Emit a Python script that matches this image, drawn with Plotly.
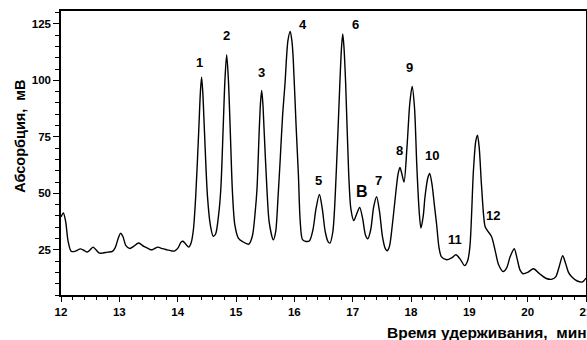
import plotly.graph_objects as go

# Retention time (min) and absorption (mV)
time_min = [
    12.00, 12.04, 12.08, 12.12, 12.17, 12.22, 12.28, 12.33, 12.39, 12.45,
    12.50, 12.55, 12.60, 12.66, 12.72, 12.80, 12.88, 12.93, 12.98, 13.02,
    13.06, 13.11, 13.18, 13.25, 13.33, 13.42, 13.50, 13.55, 13.60, 13.66,
    13.74, 13.82, 13.90, 13.95, 14.01, 14.06, 14.09, 14.14, 14.19, 14.23,
    14.27, 14.31, 14.36, 14.39, 14.41, 14.43, 14.46, 14.51, 14.56, 14.61,
    14.65, 14.70, 14.74, 14.78, 14.81, 14.84, 14.87, 14.90, 14.94, 14.98,
    15.04, 15.12, 15.22, 15.28, 15.33, 15.36, 15.40, 15.42, 15.44, 15.46,
    15.48, 15.53, 15.57, 15.64, 15.68, 15.72, 15.76, 15.80, 15.84, 15.89,
    15.93, 15.96, 15.98, 16.03, 16.07, 16.10, 16.14, 16.20, 16.26, 16.32,
    16.37, 16.43, 16.48, 16.53, 16.58, 16.61, 16.66, 16.72, 16.78, 16.81,
    16.83, 16.85, 16.88, 16.93, 16.97, 17.02, 17.07, 17.12, 17.17, 17.22,
    17.26, 17.31, 17.36, 17.41, 17.46, 17.51, 17.56, 17.59, 17.63, 17.68,
    17.72, 17.78, 17.81, 17.84, 17.88, 17.93, 17.98, 18.02, 18.06, 18.10,
    18.14, 18.17, 18.21, 18.24, 18.29, 18.32, 18.36, 18.40, 18.44, 18.48,
    18.52, 18.61, 18.70, 18.77, 18.84, 18.92, 18.97, 19.01, 19.07, 19.11,
    19.14, 19.17, 19.21, 19.27, 19.31, 19.38, 19.44, 19.50, 19.58, 19.64,
    19.70, 19.77, 19.82, 19.87, 19.92, 20.00, 20.10, 20.20, 20.32, 20.42,
    20.48, 20.54, 20.60, 20.65, 20.70, 20.75, 20.85, 20.94, 21.00,
]
absorb_mv = [
    39.5, 41.3, 37.5, 29.0, 24.5, 24.2, 24.8, 25.4, 24.8, 24.0,
    25.0, 26.2, 25.0, 23.5, 23.6, 24.0, 24.3, 26.0, 30.0, 32.3,
    31.0, 27.0, 25.6, 26.6, 28.0, 26.5, 25.5, 25.0, 25.5, 26.2,
    25.5, 25.0, 24.5, 24.5, 26.0, 28.5, 28.8, 27.5, 26.2, 28.0,
    34.0, 49.0, 77.0, 95.0, 101.4, 95.0, 77.0, 49.0, 36.0, 31.0,
    32.0, 40.0, 52.0, 79.0, 100.0, 111.4, 100.0, 79.0, 50.0, 36.0,
    30.2, 28.5, 27.5, 31.0, 42.0, 52.0, 79.0, 90.0, 95.5, 90.0,
    79.0, 52.0, 37.0, 29.4, 33.0, 48.0, 66.0, 85.0, 98.5, 117.6,
    121.7, 117.0, 110.0, 80.0, 58.0, 38.0, 29.5, 28.7, 29.0, 34.0,
    43.0, 49.5, 43.0, 33.0, 28.5, 28.0, 33.0, 60.0, 98.5, 115.0,
    120.5, 115.0, 98.5, 60.0, 43.0, 37.9, 41.0, 43.8, 39.0, 31.5,
    29.9, 34.0, 44.0, 48.5, 42.0, 31.0, 25.5, 24.6, 26.5, 36.0,
    45.6, 58.8, 61.5, 59.0, 55.0, 70.0, 90.0, 97.3, 88.0, 62.0,
    42.0, 34.6, 40.0, 48.5, 57.0, 58.8, 54.0, 45.0, 36.0, 26.0,
    22.0, 20.6, 21.5, 22.8, 21.0, 18.0, 20.0, 26.5, 60.0, 73.0,
    75.7, 70.0, 53.0, 35.3, 33.5, 30.9, 25.0, 18.5, 15.4, 17.0,
    22.0, 25.5, 21.0, 16.0, 14.4, 15.0, 16.6, 14.5, 12.3, 12.0,
    13.0, 17.5, 22.4, 19.0, 15.0, 13.2, 11.2, 10.8, 12.5,
]

# Peak labels and their positions (data coordinates)
peak_names = ["1", "2", "3", "4", "5", "6", "В", "7", "8", "9", "10", "11", "12"]
peak_t = [14.38, 14.83, 15.44, 16.15, 16.42, 17.04, 17.16, 17.44, 17.81, 17.98, 18.36, 18.75, 19.40]
peak_v = [107.9, 119.8, 103.5, 124.6, 55.9, 124.6, 50.6, 55.9, 69.1, 105.7, 66.9, 29.4, 40.4]

x_ticks = [12, 13, 14, 15, 16, 17, 18, 19, 20, 21]
y_ticks = [25, 50, 75, 100, 125]

FONT = "Liberation Sans"

fig = go.Figure()
fig.add_trace(go.Scatter(
    x=time_min, y=absorb_mv, mode="lines",
    line=dict(color="black", width=1.4, shape="spline", smoothing=0.8),
    hoverinfo="skip", showlegend=False,
))

for name, t, v in zip(peak_names, peak_t, peak_v):
    fig.add_annotation(
        x=t, y=v, text=f"<b>{name}</b>", showarrow=False,
        font=dict(family=FONT, size=16 if name == "В" else 13, color="black"),
    )

# Axis titles
fig.add_annotation(
    xref="paper", yref="paper", x=0, y=0.557, xshift=-41,
    text="<b>Абсорбция,  мВ</b>", textangle=-90, showarrow=False,
    xanchor="center", yanchor="middle",
    font=dict(family=FONT, size=14.5, color="black"),
)
fig.add_annotation(
    xref="paper", yref="paper", x=1, y=-0.1326, xshift=3,
    text="<b>Время удерживания,  мин</b>", showarrow=False,
    xanchor="right", yanchor="middle",
    font=dict(family=FONT, size=15.5, color="black"),
)

axis_common = dict(
    showline=True, linecolor="black", linewidth=1.5, mirror=True,
    showgrid=False, zeroline=False, ticks="outside", tickcolor="black",
    automargin=False,
    tickfont=dict(family=FONT, size=11.5, color="black", weight="bold"),
)

fig.update_layout(
    width=587, height=340,
    margin=dict(l=61, r=1, t=11, b=45, autoexpand=False),
    plot_bgcolor="white", paper_bgcolor="white",
    showlegend=False,
    xaxis=dict(
        range=[12, 21], tickmode="array", tickvals=x_ticks,
        ticktext=[str(v) for v in x_ticks], ticklen=5, tickwidth=1.3,
        ticklabeloverflow="allow",
        minor=dict(dtick=0.2, tick0=12, ticks="outside", ticklen=3,
                   tickcolor="black", tickwidth=1, showgrid=False),
        **axis_common,
    ),
    yaxis=dict(
        range=[5, 130.7], tickmode="array", tickvals=y_ticks,
        ticktext=[str(v) for v in y_ticks], ticklen=6, tickwidth=1.3,
        minor=dict(dtick=5, tick0=0, ticks="outside", ticklen=4,
                   tickcolor="black", tickwidth=1, showgrid=False),
        **axis_common,
    ),
)

fig.write_html("out.html")
